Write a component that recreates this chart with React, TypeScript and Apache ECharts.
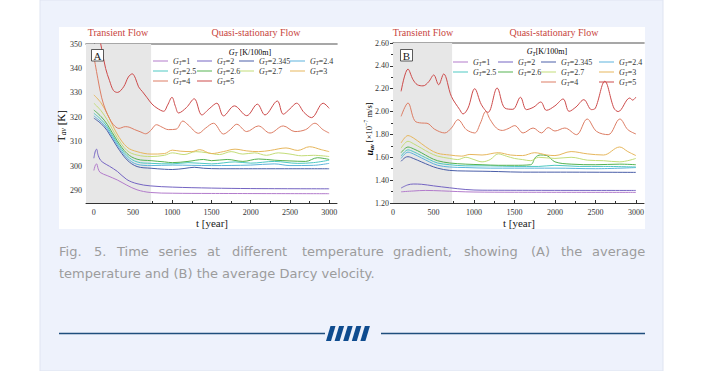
import React, { useEffect, useRef } from 'react';
import * as echarts from 'echarts';

// ---------- DATA ----------
const gradientLabels = ['1', '2', '2.345', '2.4', '2.5', '2.6', '2.7', '3', '4', '5'];
const seriesNames = gradientLabels.map((g) => 'GT=' + g);
const seriesColors = ['#b27bcb', '#7464c2', '#4a5ea8', '#5db3dc', '#4ec8c2', '#55b251', '#c3dc78', '#e6b65c', '#dc7d64', '#cc4a4a'];

// (A) average temperature [K] : [year, value]
const tempG1: [number, number][] = [[0, 298.3], [20, 300.5], [35, 301], [55, 299], [80, 297.5], [170, 296.2], [300, 294.4], [420, 292.3], [550, 290.4], [720, 289.3], [1000, 289], [1500, 288.9], [3000, 288.8]];
const tempG2: [number, number][] = [[0, 303.3], [20, 306.3], [35, 307], [55, 304.5], [85, 302.5], [130, 301.3], [200, 300], [300, 297.9], [420, 294.6], [550, 292.9], [720, 292], [1000, 291.5], [1500, 291.1], [2000, 290.9], [3000, 290.8]];
const tempG2345: [number, number][] = [[0, 319.7], [90, 317.5], [170, 314.6], [297, 308], [424, 302.6], [551, 299.9], [730, 299.2], [900, 298.8], [1000, 298.7], [1150, 299.1], [1280, 299.6], [1400, 299.2], [1600, 299], [3000, 299]];
const tempG24: [number, number][] = [[0, 320.6], [90, 318.2], [170, 315.4], [297, 308.8], [424, 303.4], [551, 300.8], [730, 300.3], [1000, 300.5], [1500, 300.3], [2000, 300.5], [2300, 301], [2500, 300.3], [2800, 300.4], [3000, 301.2]];
const tempG25: [number, number][] = [[0, 321.7], [90, 319.2], [170, 316.2], [297, 309.6], [424, 304.3], [551, 301.8], [730, 301.2], [1000, 301], [1200, 301.5], [1500, 301], [1800, 301.8], [2000, 301.3], [2300, 302], [2600, 301.2], [2800, 301.5], [3000, 302.5]];
const tempG26: [number, number][] = [[0, 323], [90, 320.4], [170, 317.2], [297, 310.5], [424, 305.2], [551, 302.9], [730, 302.3], [900, 301.8], [1000, 301.5], [1200, 302], [1400, 302.8], [1500, 302.3], [1700, 302.8], [1900, 302], [2100, 303], [2300, 302.5], [2500, 302.2], [2700, 302], [2850, 303.5], [3000, 302.8]];
const tempG27: [number, number][] = [[0, 325.8], [90, 322.8], [170, 319], [297, 311.8], [424, 306.4], [551, 304.6], [730, 304], [900, 304.5], [1000, 305.5], [1150, 304.8], [1300, 306], [1450, 305.5], [1600, 304.8], [1750, 306], [1900, 305], [2050, 305.5], [2200, 304.5], [2350, 305.5], [2500, 305], [2650, 304.3], [2800, 304.5], [3000, 304]];
const tempG3: [number, number][] = [[0, 329.2], [90, 326], [170, 321.5], [297, 313.2], [424, 307.8], [551, 306], [730, 305], [900, 305.2], [1000, 306.6], [1100, 306.2], [1250, 306], [1350, 306.8], [1500, 305.2], [1650, 306], [1800, 307], [1950, 306.3], [2100, 306], [2250, 306.5], [2450, 307.5], [2600, 306.5], [2750, 308], [2900, 306.8], [3000, 306]];
const tempG4: [number, number][] = [[0, 345], [50, 336], [100, 328], [150, 323], [200, 319.5], [250, 317], [320, 315.5], [400, 316.2], [450, 316], [520, 315], [600, 314], [660, 313.3], [720, 314.5], [800, 317], [870, 316], [950, 315], [1050, 315.2], [1135, 318.5], [1200, 317], [1335, 313.5], [1420, 315.5], [1525, 317.6], [1653, 313.2], [1740, 315], [1822, 317.2], [1949, 314.2], [2097, 316.5], [2246, 313.6], [2415, 316.5], [2564, 314.2], [2700, 315], [2818, 317.6], [2920, 315], [3000, 313.6]];
const tempG5: [number, number][] = [[0, 362], [50, 356], [100, 348], [150, 340], [200, 335], [250, 331], [300, 330.2], [380, 332.5], [440, 336.5], [490, 337.8], [530, 336], [570, 332.5], [620, 330.5], [680, 328], [740, 325.5], [805, 323.8], [890, 322.5], [940, 325], [996, 328.2], [1040, 324.5], [1080, 321.8], [1180, 324], [1280, 327.6], [1377, 321], [1470, 323.5], [1568, 325.8], [1653, 320.6], [1792, 324.7], [1949, 320.7], [2085, 325.4], [2182, 321], [2339, 326.7], [2415, 321.3], [2500, 323.5], [2585, 325.8], [2680, 322], [2775, 319.9], [2924, 325.8], [3000, 323.7]];

// (B) average Darcy velocity [1e-7 m/s] : [year, value]
const velG1: [number, number][] = [[100, 1.298], [250, 1.305], [400, 1.31], [600, 1.306], [800, 1.3], [1000, 1.296], [1500, 1.294], [3000, 1.293]];
const velG2: [number, number][] = [[100, 1.331], [180, 1.358], [250, 1.366], [350, 1.364], [500, 1.35], [700, 1.333], [900, 1.318], [1100, 1.312], [3000, 1.31]];
const velG2345: [number, number][] = [[100, 1.565], [150, 1.598], [185, 1.605], [250, 1.59], [350, 1.56], [450, 1.53], [550, 1.505], [700, 1.485], [900, 1.48], [1100, 1.478], [1300, 1.475], [1600, 1.47], [2000, 1.47], [3000, 1.468]];
const velG24: [number, number][] = [[100, 1.59], [185, 1.645], [250, 1.63], [350, 1.595], [450, 1.56], [550, 1.53], [700, 1.515], [900, 1.51], [1200, 1.505], [1500, 1.505], [2000, 1.505], [2500, 1.5], [3000, 1.51]];
const velG25: [number, number][] = [[100, 1.61], [185, 1.665], [250, 1.65], [350, 1.615], [450, 1.58], [550, 1.55], [700, 1.535], [900, 1.525], [1200, 1.525], [1500, 1.52], [1800, 1.52], [2000, 1.53], [2300, 1.52], [2600, 1.52], [3000, 1.515]];
const velG26: [number, number][] = [[100, 1.64], [185, 1.69], [250, 1.675], [350, 1.64], [450, 1.6], [550, 1.57], [700, 1.55], [900, 1.54], [1100, 1.535], [1300, 1.53], [1500, 1.53], [1700, 1.535], [1760, 1.6], [1820, 1.62], [1900, 1.615], [2000, 1.56], [2200, 1.54], [2500, 1.535], [2800, 1.54], [3000, 1.535]];
const velG27: [number, number][] = [[100, 1.68], [185, 1.74], [250, 1.72], [350, 1.68], [450, 1.64], [550, 1.61], [700, 1.59], [800, 1.58], [900, 1.6], [1000, 1.58], [1100, 1.56], [1200, 1.58], [1300, 1.63], [1400, 1.61], [1500, 1.59], [1600, 1.58], [1700, 1.57], [1800, 1.6], [2000, 1.59], [2200, 1.6], [2400, 1.575], [2600, 1.57], [2800, 1.56], [3000, 1.59]];
const velG3: [number, number][] = [[100, 1.725], [185, 1.79], [250, 1.77], [350, 1.72], [450, 1.67], [550, 1.635], [700, 1.62], [850, 1.61], [950, 1.625], [1100, 1.62], [1300, 1.64], [1450, 1.62], [1600, 1.615], [1750, 1.64], [1900, 1.62], [2000, 1.615], [2200, 1.65], [2400, 1.63], [2600, 1.62], [2800, 1.69], [2900, 1.65], [3000, 1.615]];
const velG4: [number, number][] = [[100, 1.958], [185, 2.075], [268, 1.92], [350, 1.9], [420, 1.898], [515, 1.845], [639, 1.813], [721, 1.856], [803, 1.929], [906, 1.842], [1009, 1.813], [1080, 1.9], [1145, 2.0], [1200, 1.93], [1277, 1.856], [1350, 1.835], [1420, 1.85], [1504, 1.877], [1607, 1.813], [1730, 1.856], [1834, 1.813], [1916, 1.86], [2000, 1.83], [2122, 1.856], [2266, 1.798], [2398, 1.935], [2513, 1.827], [2658, 1.798], [2802, 1.935], [2900, 1.842], [3000, 1.804]];
const velG5: [number, number][] = [[100, 2.177], [185, 2.372], [247, 2.28], [300, 2.235], [371, 2.225], [440, 2.26], [503, 2.32], [564, 2.235], [626, 2.329], [721, 2.133], [824, 2.017], [865, 1.979], [927, 2.031], [1009, 2.2], [1092, 2.06], [1174, 1.993], [1286, 2.206], [1380, 2.031], [1480, 2.02], [1574, 2.125], [1648, 2.017], [1740, 2.04], [1825, 2.084], [1895, 2.011], [2000, 2.05], [2101, 2.11], [2175, 2.002], [2260, 2.04], [2357, 2.104], [2452, 2.017], [2500, 2.03], [2616, 2.265], [2728, 2.031], [2781, 2.0], [2925, 2.119], [2960, 2.1], [3000, 2.127]];

const tempData = [tempG1, tempG2, tempG2345, tempG24, tempG25, tempG26, tempG27, tempG3, tempG4, tempG5];
const velData = [velG1, velG2, velG2345, velG24, velG25, velG26, velG27, velG3, velG4, velG5];

const xTicks = [0, 500, 1000, 1500, 2000, 2500, 3000];
const xMinorTicks = [250, 750, 1250, 1750, 2250, 2750];
const tempTicks = [290, 300, 310, 320, 330, 340, 350];
const tempMinorTicks = [295, 305, 315, 325, 335, 345];
const velTicks = [1.2, 1.4, 1.6, 1.8, 2.0, 2.2, 2.4, 2.6];
const velMinorTicks = [1.3, 1.5, 1.7, 1.9, 2.1, 2.3, 2.5];
const transientEnd = 730;

const captionLine1Words = ['Fig.', '5.', 'Time', 'series', 'at', 'different', 'temperature', 'gradient,', 'showing', '(A)', 'the', 'average'];
const captionLine1X = [59, 94, 117, 158.5, 207, 232, 302, 393, 464, 531, 561, 592];
const captionLine2 = 'temperature and (B) the average Darcy velocity.';

// ---------- STYLE ----------
const SERIF = '"Liberation Serif", "DejaVu Serif", serif';
const SANS = '"DejaVu Sans", "Noto Sans", sans-serif';
const AXIS = '#333';
const RED_TXT = '#c8453d';

const richLegend = {
  g: { fontFamily: SERIF, fontStyle: 'italic', fontSize: 8, color: '#333', lineHeight: 10 },
  s: { fontFamily: SERIF, fontStyle: 'italic', fontSize: 5.5, color: '#333', lineHeight: 10, verticalAlign: 'bottom', padding: [3, 0, 0, 0] },
  e: { fontFamily: SERIF, fontSize: 8, color: '#333', lineHeight: 10 },
};

function legendFormatter(name: string) {
  return '{g|G}{s|T}{e|=' + name.replace('GT=', '') + '}';
}

function makeLegend(left: number, top: number, names: string[]) {
  return {
    orient: 'vertical',
    left,
    top,
    padding: 0,
    icon: 'rect',
    itemWidth: 15,
    itemHeight: 1,
    itemGap: 1,
    selectedMode: false,
    data: names,
    formatter: legendFormatter,
    textStyle: { fontFamily: SERIF, fontSize: 8, color: '#333', rich: richLegend },
  };
}

function axisPair(grid: number, min: number, max: number, ticks: number[], minor: number[], isX: boolean, fmt?: (v: number) => string) {
  const main: any = {
    gridIndex: grid,
    type: 'value',
    min,
    max,
    position: isX ? 'bottom' : 'left',
    axisLine: { show: true, lineStyle: { color: AXIS, width: 1 } },
    axisTick: { show: true, customValues: ticks, length: 3, inside: isX, lineStyle: { color: AXIS } },
    axisLabel: {
      customValues: ticks,
      fontFamily: SERIF,
      fontSize: 8,
      color: AXIS,
      margin: isX ? 5 : 4,
      formatter: fmt ? fmt : (v: number) => String(v),
    },
    splitLine: { show: false },
  };
  const minorAxis: any = {
    gridIndex: grid,
    type: 'value',
    min,
    max,
    position: isX ? 'bottom' : 'left',
    axisLine: { show: false },
    axisTick: { show: true, customValues: minor, length: 2, inside: isX, lineStyle: { color: AXIS } },
    axisLabel: { show: false },
    splitLine: { show: false },
  };
  const border: any = {
    gridIndex: grid,
    type: 'value',
    min,
    max,
    position: isX ? 'top' : 'right',
    axisLine: { show: true, lineStyle: { color: isX ? '#8a8a8a' : AXIS, width: isX ? 1.6 : 1 } },
    axisTick: { show: false },
    axisLabel: { show: false },
    splitLine: { show: false },
  };
  return [main, minorAxis, border];
}

export default function App() {
  const ref = useRef<HTMLDivElement>(null);

  useEffect(() => {
    if (!ref.current) return;
    const chart = echarts.init(ref.current, undefined, { renderer: 'svg' });

    const xAxes = [
      ...axisPair(0, -100, 3100, xTicks, xMinorTicks, true),
      ...axisPair(1, 0, 3100, xTicks, xMinorTicks, true),
    ];
    const yAxes = [
      ...axisPair(0, 285, 350, tempTicks, tempMinorTicks, false),
      ...axisPair(1, 1.2, 2.6, velTicks, velMinorTicks, false, (v: number) => v.toFixed(2)),
    ];

    const series: any[] = [];
    seriesNames.forEach((name, i) => {
      series.push({
        type: 'line',
        name,
        data: tempData[i],
        xAxisIndex: 0,
        yAxisIndex: 0,
        symbol: 'none',
        smooth: 0.35,
        silent: true,
        lineStyle: { width: 1, color: seriesColors[i] },
        itemStyle: { color: seriesColors[i] },
        markArea: i === 0 ? { silent: true, itemStyle: { color: '#e7e7e7' }, data: [[{ xAxis: -100 }, { xAxis: transientEnd }]] } : undefined,
      });
    });
    seriesNames.forEach((name, i) => {
      series.push({
        type: 'line',
        name,
        data: velData[i],
        xAxisIndex: 3,
        yAxisIndex: 3,
        symbol: 'none',
        smooth: 0.35,
        silent: true,
        lineStyle: { width: 1, color: seriesColors[i] },
        itemStyle: { color: seriesColors[i] },
        markArea: i === 0 ? { silent: true, itemStyle: { color: '#e7e7e7' }, data: [[{ xAxis: 0 }, { xAxis: transientEnd }]] } : undefined,
      });
    });

    const n = seriesNames;
    const legends = [
      makeLegend(153, 57, [n[0], n[4], n[8]]),
      makeLegend(197, 57, [n[1], n[5], n[9]]),
      makeLegend(239, 57, [n[2], n[6]]),
      makeLegend(290, 57, [n[3], n[7]]),
      makeLegend(453, 58, [n[0], n[4]]),
      makeLegend(498, 58, [n[1], n[5]]),
      makeLegend(541, 58, [n[2], n[6], n[8]]),
      makeLegend(599, 58, [n[3], n[7], n[9]]),
    ];

    const textEl = (x: number, y: number, text: string, style: any, extra: any = {}) => ({
      type: 'text',
      x,
      y,
      silent: true,
      style: { text, align: 'center', verticalAlign: 'middle', ...style },
      ...extra,
    });

    const slashes: any[] = [0, 1, 2, 3, 4].map((k) => {
      const x0 = 326 + k * 8.6;
      return {
        type: 'polygon',
        silent: true,
        shape: { points: [[x0, 341], [x0 + 5, 341], [x0 + 9.5, 326], [x0 + 4.5, 326]] },
        style: { fill: '#0f4c8f' },
      };
    });

    const graphic: any[] = [
      { type: 'rect', silent: true, z: -20, shape: { x: 40, y: 0, width: 623, height: 371 }, style: { fill: '#eef2fc', stroke: '#dfe4f1', lineWidth: 1 } },
      { type: 'rect', silent: true, z: -19, shape: { x: 59, y: 27, width: 586, height: 202 }, style: { fill: '#ffffff' } },
      textEl(118, 32, 'Transient Flow', { fontFamily: SERIF, fontSize: 10, fill: RED_TXT }),
      textEl(256, 32, 'Quasi-stationary Flow', { fontFamily: SERIF, fontSize: 10, fill: RED_TXT }),
      textEl(423, 32, 'Transient Flow', { fontFamily: SERIF, fontSize: 10, fill: RED_TXT }),
      textEl(554, 32, 'Quasi-stationary Flow', { fontFamily: SERIF, fontSize: 10, fill: RED_TXT }),
      { type: 'rect', silent: true, z: 10, shape: { x: 91.5, y: 49.5, width: 12, height: 11.5 }, style: { fill: '#fff', stroke: '#333', lineWidth: 0.8 } },
      textEl(97.5, 55.5, 'A', { fontFamily: SERIF, fontSize: 11, fill: '#222' }, { z: 11 }),
      { type: 'rect', silent: true, z: 10, shape: { x: 400.5, y: 49.5, width: 12, height: 11.5 }, style: { fill: '#fff', stroke: '#333', lineWidth: 0.8 } },
      textEl(406.5, 55.5, 'B', { fontFamily: SERIF, fontSize: 11, fill: '#222' }, { z: 11 }),
      textEl(250, 52, '{g|G}{s|T}{e| [K/100m]}', { rich: richLegend }),
      textEl(547, 51.5, '{g|G}{s|T}{e|[K/100m]}', { rich: richLegend }),
      textEl(212, 223, 't [year]', { fontFamily: SERIF, fontSize: 11, fill: '#222' }),
      textEl(519, 223, 't [year]', { fontFamily: SERIF, fontSize: 11, fill: '#222' }),
      textEl(61, 126, '{a|T}{b|av}{a| [K]}', {
        rich: {
          a: { fontFamily: SERIF, fontSize: 11, color: '#222', lineHeight: 13 },
          b: { fontFamily: SERIF, fontSize: 7.5, fontStyle: 'italic', color: '#222', lineHeight: 13, verticalAlign: 'bottom', padding: [4, 0, 0, 0] },
        },
      }, { rotation: Math.PI / 2 }),
      textEl(369, 129, '{u|u}{b|av}{a| [×10}{p|−7}{a| m/s]}', {
        rich: {
          u: { fontFamily: SERIF, fontSize: 10, fontWeight: 'bold', fontStyle: 'italic', color: '#222', lineHeight: 12 },
          a: { fontFamily: SERIF, fontSize: 8.5, color: '#222', lineHeight: 12 },
          b: { fontFamily: SERIF, fontSize: 6, fontStyle: 'italic', fontWeight: 'bold', color: '#222', lineHeight: 12, verticalAlign: 'bottom', padding: [4, 0, 0, 0] },
          p: { fontFamily: SERIF, fontSize: 6, color: '#222', lineHeight: 12, verticalAlign: 'top', padding: [0, 0, 4, 0] },
        },
      }, { rotation: Math.PI / 2 }),
      ...captionLine1Words.map((w, i) => ({
        type: 'text',
        x: captionLine1X[i],
        y: 251,
        silent: true,
        style: { text: w, align: 'left', verticalAlign: 'middle', fontFamily: SANS, fontSize: 13, fill: '#9c9c9c' },
      })),
      {
        type: 'text',
        x: 59,
        y: 273,
        silent: true,
        style: { text: captionLine2, align: 'left', verticalAlign: 'middle', fontFamily: SANS, fontSize: 13, fill: '#9c9c9c' },
      },
      { type: 'line', silent: true, shape: { x1: 59, y1: 333.5, x2: 325, y2: 333.5 }, style: { stroke: '#1f4e7c', lineWidth: 1.5 } },
      { type: 'line', silent: true, shape: { x1: 381, y1: 333.5, x2: 645, y2: 333.5 }, style: { stroke: '#1f4e7c', lineWidth: 1.5 } },
      ...slashes,
    ];

    chart.setOption({
      animation: false,
      backgroundColor: '#ffffff',
      grid: [
        { left: 86, top: 44, width: 251, height: 159, show: true, borderColor: AXIS, borderWidth: 0, backgroundColor: 'transparent' },
        { left: 393, top: 43, width: 251, height: 160, show: true, borderColor: AXIS, borderWidth: 0, backgroundColor: 'transparent' },
      ],
      xAxis: xAxes,
      yAxis: yAxes,
      legend: legends,
      series,
      graphic,
    });

    return () => chart.dispose();
  }, []);

  return <div ref={ref} style={{ position: 'fixed', left: 0, top: 0, width: 701, height: 371 }} />;
}
